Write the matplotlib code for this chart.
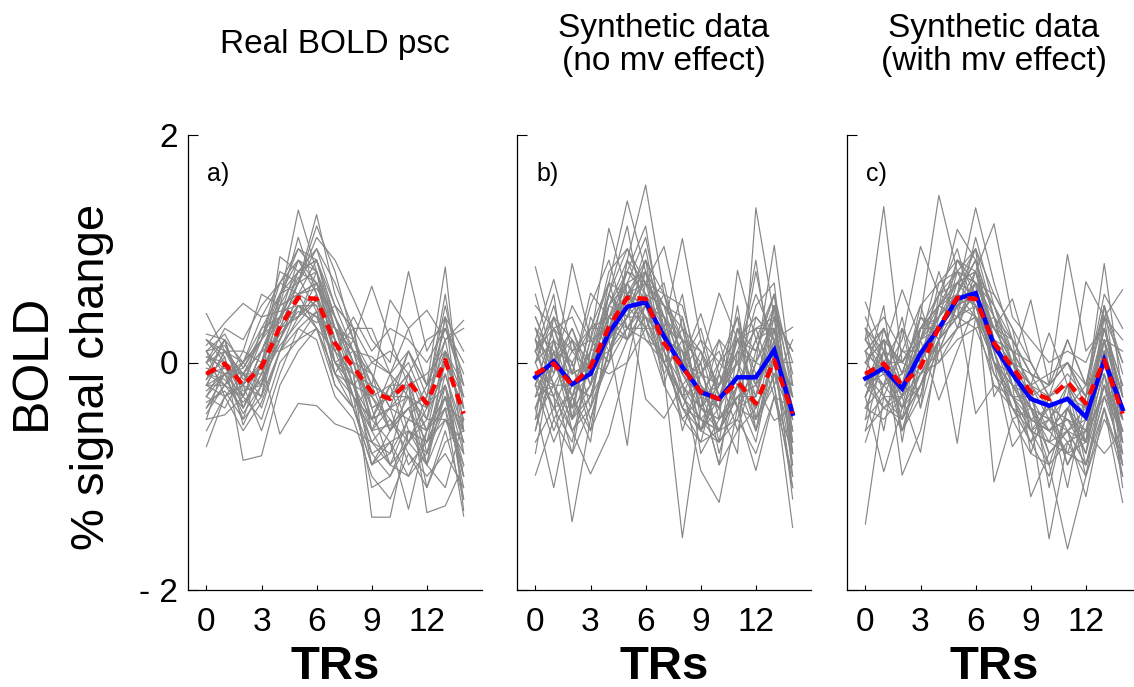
import matplotlib
matplotlib.use("Agg")
import matplotlib.pyplot as plt
import numpy as np

plt.rcParams['font.family'] = ['Liberation Sans', 'DejaVu Sans']

trs = list(range(15))
xtick_vals = [0, 3, 6, 9, 12]
ytick_vals = [-2, 0, 2]
ytick_labels = ["- 2", "0", "2"]
titles = ["Real BOLD psc", "Synthetic data\n(no mv effect)", "Synthetic data\n(with mv effect)"]
panel_tags = ["a)", "b)", "c)"]

real_mean = [-0.10, -0.01, -0.20, -0.04, 0.31, 0.57, 0.56, 0.17, -0.04, -0.26, -0.32, -0.17, -0.36, 0.02, -0.45]
synth_nomv_mean = [-0.13, 0.01, -0.19, -0.10, 0.26, 0.49, 0.53, 0.23, -0.04, -0.26, -0.32, -0.13, -0.13, 0.11, -0.45]
synth_mv_mean = [-0.14, -0.05, -0.23, 0.08, 0.30, 0.56, 0.61, 0.15, -0.10, -0.32, -0.38, -0.32, -0.48, 0.02, -0.41]

real_subjects = [
    [0.10, 0.25, -0.05, 0.20, 0.55, 1.34, 0.80, 0.30, 0.10, 0.05, -0.10, 0.10, -0.20, 0.30, -0.20],
    [-0.30, -0.10, -0.45, -0.20, 0.40, 0.70, 1.30, 0.60, 0.20, -0.10, -0.40, -0.30, -0.60, -0.20, -0.70],
    [-0.74, -0.30, -0.60, -0.35, 0.10, 0.30, 0.45, 0.00, -0.30, -0.60, -0.55, -0.40, -0.70, -0.30, -0.90],
    [0.20, 0.05, -0.86, -0.82, -0.20, 0.10, 0.30, -0.10, -0.20, -0.50, -0.70, -0.60, -0.80, -0.40, -1.00],
    [-0.20, 0.10, 0.00, 0.30, 0.60, 0.90, 0.70, 0.40, -0.10, -1.36, -1.36, -0.60, -0.90, -0.50, -0.80],
    [0.00, -0.20, -0.30, 0.10, 0.20, 0.60, 0.50, 0.00, -0.20, -0.80, -0.70, -1.29, -0.60, -0.40, -1.35],
    [0.15, 0.35, 0.52, 0.40, 0.45, 0.50, 0.40, 0.30, 0.20, 0.67, 0.20, -0.20, -0.10, 0.10, -0.30],
    [-0.40, -0.20, 0.00, -0.20, 0.93, 0.80, 0.90, 0.50, 0.10, -0.20, 0.55, 0.30, -0.20, 0.20, 0.37],
    [0.05, 0.00, -0.40, -0.10, 0.30, 0.70, 1.10, 0.90, 0.56, 0.20, 0.00, 0.80, 0.10, 0.40, 0.10],
    [-0.10, -0.05, -0.10, 0.20, 0.40, 0.40, 0.55, 0.10, -0.10, -0.30, -0.20, -0.20, -1.32, -1.26, -0.90],
    [-0.25, -0.10, -0.30, 0.00, 0.50, 1.10, 0.60, -0.10, -0.30, -0.50, -0.40, 0.10, -0.20, 0.84, -0.60],
    [-0.50, -0.46, -0.30, -0.50, 0.00, 0.20, 0.30, -0.20, -0.40, -0.90, -0.80, -0.50, -0.60, -0.30, -1.10],
    [0.43, 0.10, -0.10, 0.10, 0.40, 0.60, 0.70, 0.30, -0.10, -0.20, -0.30, -0.10, -0.50, 0.00, -0.40],
    [-0.15, 0.20, -0.25, -0.20, 0.20, 0.50, 0.40, 0.00, 0.10, -0.40, -0.30, -0.30, -0.40, 0.20, -0.60],
    [-0.05, -0.10, -0.05, 0.25, 0.35, 0.80, 0.90, 0.40, 0.00, -0.10, -0.60, -0.40, -0.30, 0.10, -0.20],
    [-0.35, -0.25, -0.50, -0.30, 0.10, 0.40, 0.60, 0.20, -0.20, -0.60, -0.90, -0.70, -0.40, -0.10, -0.70],
    [0.10, 0.15, -0.15, -0.05, 0.25, 0.45, 0.35, 0.50, 0.30, 0.00, 0.10, -0.10, 0.20, 0.30, 0.00],
    [-0.20, -0.30, -0.20, 0.00, -0.63, -0.36, -0.38, -0.54, -0.60, -0.70, -0.50, -0.80, -1.00, -0.80, -1.10],
    [0.00, 0.30, 0.20, 0.50, 0.70, 0.90, 0.80, 0.20, -0.30, -0.50, -0.40, -0.20, -0.60, 0.10, -0.50],
    [-0.10, -0.15, -0.35, -0.15, 0.15, 0.35, 0.55, 0.30, 0.10, -0.10, -0.40, -0.50, -0.20, 0.00, -0.30],
    [0.20, 0.10, 0.10, 0.00, 0.60, 1.00, 0.80, 0.30, 0.00, -0.40, -0.30, 0.10, -0.30, 0.50, -0.20],
    [-0.30, 0.00, -0.10, -0.40, 0.10, 0.50, 0.30, -0.10, 0.20, -0.20, -0.60, -0.40, -0.90, -0.20, -0.80],
    [-0.45, -0.20, -0.40, 0.00, 0.30, 0.40, 0.70, 0.10, -0.30, -1.10, -1.00, -0.60, -0.70, -0.40, -0.50],
    [0.05, -0.05, -0.20, 0.30, 0.40, 0.75, 0.45, 0.00, -0.20, 0.00, -0.10, -0.30, -0.50, 0.40, -0.30],
    [-0.15, 0.05, -0.55, -0.20, 0.20, 0.60, 0.65, 0.40, 0.10, -0.50, -0.20, 0.00, -0.40, -0.20, -1.00],
    [-0.60, -0.30, -0.20, -0.60, -0.10, 0.30, 0.20, -0.30, -0.50, -1.00, -1.20, -0.80, -1.10, -0.60, -1.20],
    [0.25, 0.20, 0.00, 0.20, 0.80, 0.70, 1.00, 0.70, 0.30, 0.30, -0.10, 0.30, 0.46, 0.20, 0.30],
    [-0.20, -0.10, -0.10, -0.30, 0.30, 0.50, 0.40, 0.20, -0.20, -0.30, -0.50, -0.70, -0.30, 0.60, -0.40],
    [0.00, 0.20, -0.30, 0.10, 0.10, 0.20, 0.45, -0.20, -0.40, -0.20, -0.30, -0.10, -0.80, -0.10, -0.60],
    [-0.10, -0.20, 0.10, 0.60, 0.50, 0.60, 0.30, 0.10, 0.40, 0.10, 0.30, 0.20, 0.00, 0.30, -0.10],
    [-0.20, 0.10, -0.10, 0.10, 0.50, 0.80, 0.70, 0.20, -0.30, -0.70, -0.90, -1.00, -0.60, -0.30, -1.00],
    [0.10, -0.10, 0.00, 0.40, 0.70, 0.60, 0.90, 0.40, 0.00, -0.60, -0.40, -0.90, -0.70, -0.50, -0.70],
    [-0.30, -0.40, -0.10, -0.10, 0.30, 0.70, 0.80, 0.00, -0.10, -0.90, -0.60, -0.30, -1.10, -0.70, -0.60],
    [0.00, 0.10, -0.20, -0.30, 0.60, 0.80, 1.00, 0.50, 0.30, -0.40, -0.90, -0.50, -0.60, -0.20, -1.20],
    [-0.40, -0.10, -0.50, 0.00, 0.40, 0.90, 0.60, -0.10, -0.40, -0.80, -1.00, -0.70, -0.90, -1.10, -0.50],
    [0.20, 0.00, -0.20, 0.20, 0.60, 0.70, 1.20, 0.80, 0.20, -0.30, -0.60, -0.10, -0.40, 0.40, -0.80],
    [-0.10, 0.20, -0.40, -0.10, 0.20, 0.50, 0.50, 0.10, 0.30, -0.60, -0.20, -0.70, -0.50, -0.50, -0.90],
    [-0.20, -0.20, 0.00, 0.20, 0.70, 1.00, 0.90, 0.30, -0.20, -0.70, -0.80, -0.20, -0.90, 0.10, -1.30],
    [0.10, -0.30, -0.10, -0.20, 0.30, 0.40, 0.80, 0.40, 0.00, -0.50, -0.10, -0.60, -0.70, 0.00, -0.40],
    [-0.50, 0.00, -0.30, 0.10, 0.50, 0.60, 0.70, 0.20, -0.40, -0.90, -0.70, -1.00, -0.80, -0.30, -0.60],
]

synth_nomv_subjects = [
    [0.84, 0.20, -0.30, 0.10, 0.50, 0.90, 1.56, 0.60, 0.20, -0.40, -0.20, 0.30, 0.10, 0.50, -0.20],
    [-0.99, -0.50, -0.80, -0.40, 0.00, 0.30, 0.20, 0.00, -0.30, -0.60, -0.70, -0.40, -0.50, -0.20, -1.45],
    [0.20, 0.73, 0.10, 0.30, 0.70, 1.42, 0.80, 0.50, 0.30, -0.10, 0.20, 0.00, 0.30, 0.40, 0.10],
    [-0.40, -1.10, -0.30, -0.60, -0.20, 0.20, 0.50, 0.10, -0.50, -0.30, -0.90, -0.60, -0.40, 0.00, -0.90],
    [0.30, -0.10, 0.87, 0.20, 1.18, 0.60, 0.90, 0.40, 0.20, 0.10, -0.30, 0.20, 0.10, 0.60, -0.10],
    [-0.20, -0.30, -1.40, -0.50, 0.10, 0.40, 0.40, 0.00, -0.40, -0.50, -0.60, -0.20, -0.60, -0.10, -0.70],
    [0.10, 0.30, -0.10, 0.61, 0.40, 0.80, 0.70, 1.02, 0.30, 0.10, -0.20, 0.10, 0.00, 0.30, -0.30],
    [-0.50, -0.20, -0.60, -0.98, -0.63, 0.00, 0.30, -0.20, -0.50, -0.70, -0.60, -0.50, -0.80, -0.30, -1.00],
    [0.00, 0.40, 0.20, 0.00, 0.60, 0.40, 0.80, 0.30, 1.09, 0.20, 0.00, -0.20, 0.20, 0.30, -0.40],
    [-0.30, 0.10, -0.40, -0.20, 0.20, -0.73, 0.60, 0.10, -0.20, -0.50, -0.30, 0.00, -0.30, 0.20, -0.60],
    [0.40, 0.00, 0.30, -0.10, 0.50, 0.70, 0.40, -0.10, -1.54, -0.40, -0.50, -0.30, -0.20, 0.10, -0.50],
    [-0.10, -0.40, 0.00, 0.30, 0.30, 0.60, 0.50, 0.40, 0.00, 0.43, -0.10, 0.40, -0.20, 0.50, 0.00],
    [-0.60, 0.20, -0.50, -0.30, 0.40, 0.50, -0.32, -0.49, -0.20, -0.95, -1.23, -0.40, -0.95, -0.30, -0.80],
    [0.20, -0.20, 0.10, 0.20, 0.00, 0.90, 0.70, 0.50, 0.20, 0.00, 0.61, 0.20, 0.40, 0.20, 0.31],
    [-0.20, 0.30, -0.20, 0.10, 0.60, 0.30, 0.60, 0.30, -0.10, -0.40, -0.50, 0.81, 0.20, 0.60, -0.30],
    [0.10, -0.30, -0.60, -0.40, 0.10, 0.60, 0.40, 0.20, 0.10, -0.20, -0.40, -0.80, 1.36, 0.40, -0.60],
    [-0.40, 0.00, 0.20, -0.20, 0.20, 0.40, 0.90, 0.60, 0.00, -0.30, 0.00, 0.20, 0.00, 1.03, -0.20],
    [0.00, 0.50, -0.10, 0.00, 0.40, 0.30, 0.30, 0.00, -0.30, -0.20, -0.60, -0.30, -0.20, -0.51, -0.40],
    [-0.70, -0.40, -0.30, -0.10, 0.30, 0.60, 0.70, 0.40, 0.10, -0.60, -0.30, 0.10, 0.60, 0.20, -0.80],
    [0.30, 0.10, -0.40, 0.20, 0.70, 0.20, 0.50, 0.00, -0.40, 0.00, -0.80, -0.20, -0.40, 0.00, -0.20],
    [-0.10, -0.60, -0.20, -0.30, 0.00, 0.70, 1.10, 0.30, -0.10, -0.30, -0.20, 0.00, 0.30, -0.20, -1.10],
    [0.50, 0.30, 0.40, 0.00, 0.20, 0.50, 0.30, 0.60, 0.50, -0.10, 0.10, -0.40, 0.00, 0.40, 0.10],
    [-0.30, -0.20, -0.80, 0.10, 0.80, 1.00, 0.60, 0.10, -0.30, -0.50, -0.60, -0.10, 0.80, 0.00, -0.30],
    [0.00, 0.20, 0.00, -0.50, 0.10, 0.40, 0.60, 0.50, 0.40, -0.20, -0.40, 0.50, -0.50, 0.30, -0.70],
    [-0.50, 0.40, -0.10, 0.00, 0.50, 0.80, 1.20, 0.20, 0.10, -0.40, -0.10, -0.60, 0.00, -0.10, -0.20],
    [0.60, 0.00, 0.50, 0.20, 0.30, 0.20, 0.40, 0.30, -0.60, -0.10, -0.20, 0.20, -0.30, 0.50, -0.50],
    [-0.20, -0.70, -0.30, -0.70, 0.40, 0.60, 0.80, -0.10, 0.20, -0.80, -0.50, -0.30, -0.70, 0.10, -1.20],
    [0.10, 0.60, -0.50, 0.40, 0.10, 0.30, 0.50, 0.70, 0.00, 0.30, -0.30, 0.00, 0.90, -0.20, 0.20],
    [-0.40, -0.10, 0.30, -0.20, 0.60, 1.20, 0.30, 0.00, 0.30, -0.40, 0.20, -0.40, -0.30, 0.30, -0.40],
    [0.20, -0.50, -0.20, 0.00, -0.10, 0.00, 0.70, 0.40, -0.20, 0.00, -0.70, 0.30, -0.10, 0.00, 0.00],
    [-0.80, 0.10, -0.60, -0.30, 0.30, 0.70, 0.20, 0.10, 0.60, -0.30, -0.40, -0.10, 0.50, 0.70, -0.80],
    [0.40, 0.00, -0.10, 0.50, 0.90, 0.30, 0.60, 0.20, -0.40, -0.60, 0.00, 0.40, -0.60, 0.20, -0.30],
    [-0.30, 0.20, -0.50, 0.00, 0.40, 0.70, 0.80, 0.30, -0.20, -0.40, -0.60, -0.30, -0.30, 0.40, -0.90],
    [0.10, -0.30, 0.20, -0.40, 0.50, 0.40, 0.90, 0.00, 0.10, -0.60, -0.20, 0.00, -0.60, 0.10, -0.60],
    [-0.60, 0.00, -0.40, 0.20, 0.00, 0.90, 0.50, 0.40, -0.30, 0.10, -0.50, -0.20, 0.20, -0.30, -0.40],
    [0.30, -0.20, -0.20, -0.30, 0.30, 0.50, 0.70, 0.60, 0.00, -0.30, -0.90, 0.10, -0.20, 0.50, -1.00],
    [-0.20, 0.30, 0.10, -0.10, 0.70, 0.60, 0.40, 0.00, -0.40, -0.70, -0.10, -0.40, 0.40, 0.20, -0.60],
    [0.00, -0.40, -0.70, 0.10, 0.20, 0.50, 1.00, 0.20, 0.00, -0.10, -0.40, 0.30, -0.40, 0.00, -0.30],
    [-0.40, 0.10, 0.00, -0.60, 0.30, 0.80, 0.60, -0.20, 0.40, -0.50, -0.70, -0.50, 0.10, 0.60, -0.70],
    [0.20, 0.00, -0.30, 0.30, 0.40, 0.20, 0.80, 0.50, -0.10, 0.20, -0.30, -0.10, -0.50, -0.10, -0.50],
    [-0.10, -0.20, -0.50, -0.20, 0.60, 1.00, 0.70, 0.10, -0.30, -0.60, -0.40, 0.20, 0.30, 0.30, -0.80],
    [0.10, 0.40, -0.10, 0.00, 0.10, 0.60, 0.30, 0.30, 0.20, -0.30, -0.60, -0.30, -0.10, 0.00, -1.10],
]

synth_mv_subjects = [
    [-1.42, -0.30, -0.50, -0.20, 0.20, 0.40, 0.50, 0.00, -0.30, -0.50, -0.60, -0.40, -0.70, -0.20, -0.60],
    [0.20, 1.37, 0.00, 0.30, 0.50, 0.80, 0.70, 0.30, 0.10, -0.20, -0.30, -0.10, -0.30, 0.30, -0.20],
    [0.53, 0.10, 0.64, 0.20, 0.40, 0.60, 0.90, 0.40, 0.00, -0.10, -0.20, 0.00, -0.40, 0.20, 0.10],
    [-0.30, -0.96, -0.40, -0.10, 0.00, 0.30, 0.40, 0.10, -0.40, -0.60, -0.70, -0.80, -0.90, -0.30, -0.80],
    [0.00, 0.20, -0.99, -0.60, 0.10, 0.50, 0.60, 0.20, -0.20, -0.40, -0.60, -0.50, -0.70, 0.10, -0.50],
    [0.10, -0.10, 0.20, 1.02, 0.60, 0.70, 0.80, 0.50, 0.20, -0.10, -0.20, 0.20, -0.20, 0.40, 0.00],
    [-0.50, -0.30, -0.30, -0.79, 0.20, 0.40, 0.30, -0.10, -0.30, -0.70, -0.50, -0.70, -0.60, -0.10, -0.70],
    [0.00, 0.30, -0.10, 0.40, 1.47, 0.80, 1.00, 0.60, 0.30, 0.00, -0.30, -0.20, -0.50, 0.20, -0.30],
    [-0.20, -0.40, -0.30, 0.20, -0.33, 0.10, 0.50, 0.20, -0.10, -0.40, -0.80, -0.60, -0.90, -0.40, -1.23],
    [0.30, 0.10, 0.00, 0.30, 0.50, 1.17, 0.90, 0.40, 0.10, -0.20, -0.10, 0.00, -0.20, 0.50, -0.10],
    [-0.30, 0.00, -0.50, -0.10, 0.20, -0.71, 0.40, 0.00, -0.20, -0.50, -0.60, -0.40, -0.80, -0.20, -0.90],
    [0.10, -0.10, -0.20, 0.30, 0.40, 0.60, 1.36, 0.70, 0.20, -0.10, -0.40, -0.30, -0.40, 0.30, -0.40],
    [-0.40, -0.20, -0.10, 0.10, 0.30, 0.50, -0.45, -0.20, -0.30, -0.60, -0.70, -0.60, -0.90, -0.30, -0.60],
    [0.20, 0.40, 0.10, 0.50, 0.70, 0.90, 0.80, 1.22, 0.40, 0.20, 0.00, 0.10, 0.00, 0.40, 0.20],
    [-0.10, -0.30, -0.60, -0.20, 0.10, 0.50, 0.70, -1.05, -0.50, -0.80, -0.90, -0.70, -1.00, -0.50, -0.80],
    [-0.30, 0.10, -0.20, 0.00, 0.30, 0.40, 0.60, 0.30, 0.56, 0.00, -0.30, -0.20, -0.50, 0.10, -0.40],
    [-0.60, -0.40, -0.50, -0.20, 0.30, 0.60, 0.40, 0.00, -0.74, -0.50, -0.60, -0.80, -0.70, -0.20, -0.70],
    [0.00, 0.20, 0.00, 0.20, 0.50, 0.70, 0.60, 0.10, 0.00, 0.55, -0.20, 0.00, -0.30, 0.50, 0.00],
    [-0.20, -0.10, -0.40, 0.00, 0.30, 0.50, 0.60, 0.20, -0.20, -1.18, -0.80, -0.60, -0.70, -0.20, -0.50],
    [0.30, 0.00, -0.30, 0.40, 0.20, 0.40, 0.70, 0.30, 0.00, -0.20, 0.26, -0.20, -0.40, 0.30, -0.30],
    [-0.10, -0.20, 0.10, 0.10, 0.40, 0.60, 0.50, 0.00, -0.40, -0.50, -1.55, -0.70, -0.60, 0.00, -0.60],
    [0.10, 0.30, -0.20, 0.20, 0.60, 0.80, 0.70, 0.40, 0.20, -0.10, -0.20, 0.95, 0.10, 0.30, -0.20],
    [-0.40, -0.50, -0.30, -0.10, 0.10, 0.30, 0.40, 0.20, -0.10, -0.60, -0.90, -1.64, -1.00, -0.40, -0.90],
    [0.20, 0.00, 0.00, 0.30, 0.50, 0.70, 0.50, 0.30, 0.10, -0.20, -0.40, -0.30, 0.71, 0.40, 0.64],
    [-0.30, 0.10, -0.40, -0.20, 0.20, 0.50, 0.80, 0.10, -0.30, -0.40, -0.50, -0.60, -1.18, -0.40, -1.00],
    [0.00, -0.20, -0.10, 0.40, 0.30, 0.60, 0.90, 0.20, 0.00, -0.30, -0.20, 0.00, -0.30, 0.87, -0.30],
    [-0.20, 0.20, -0.60, -0.30, 0.40, 0.90, 0.60, 0.00, -0.20, -0.50, -0.40, -0.50, -0.60, -0.80, -0.60],
    [0.40, 0.00, 0.30, 0.00, 0.50, 0.40, 1.10, 0.50, 0.10, 0.00, -0.30, 0.20, -0.20, 0.60, 0.30],
    [-0.50, 0.30, -0.20, 0.50, 0.00, 0.20, 0.30, 0.40, -0.20, -0.30, -0.60, -0.40, -0.80, 0.20, -0.40],
    [0.10, -0.60, 0.30, -0.40, 0.60, 1.00, 0.40, -0.20, -0.40, -0.70, -0.30, -0.90, -0.50, 0.10, -0.70],
    [-0.10, 0.50, -0.70, 0.20, 0.80, 0.30, 0.70, 0.60, 0.30, -0.40, -0.50, -0.20, -0.70, 0.50, -0.50],
    [-0.70, -0.20, 0.40, -0.40, 0.20, 0.70, 1.00, -0.30, 0.00, -0.20, -1.10, -0.40, -0.20, -0.10, -1.00],
    [-0.20, 0.10, -0.30, 0.10, 0.40, 0.70, 0.80, 0.30, 0.00, -0.50, -0.60, -0.50, -0.80, 0.00, -0.50],
    [0.00, -0.20, -0.40, 0.30, 0.60, 0.50, 0.70, 0.00, -0.30, -0.30, -0.80, -0.60, -0.40, 0.20, -0.80],
    [-0.30, 0.20, 0.00, -0.10, 0.20, 0.80, 0.50, 0.20, 0.10, -0.60, -0.40, -0.90, -0.60, 0.30, -0.30],
    [0.20, -0.10, -0.20, 0.20, 0.30, 0.60, 1.00, 0.40, -0.20, -0.20, -0.50, -0.30, -1.00, -0.10, -0.60],
    [-0.40, 0.00, -0.60, 0.00, 0.50, 0.40, 0.60, -0.10, -0.40, -0.70, -1.00, -0.40, -0.70, 0.40, -0.70],
    [0.10, 0.30, -0.10, 0.40, 0.20, 0.90, 0.70, 0.50, 0.00, -0.30, -0.40, -1.10, -0.30, 0.00, -0.40],
    [-0.10, -0.40, -0.20, -0.30, 0.50, 0.60, 0.90, 0.10, -0.50, -0.40, -0.70, -0.20, -0.90, -0.20, -0.60],
    [-0.60, 0.10, -0.50, 0.30, 0.30, 0.50, 0.40, 0.30, 0.20, -0.80, -0.30, -0.60, -0.50, 0.10, -1.10],
    [0.30, -0.30, 0.10, 0.00, 0.70, 0.80, 0.50, 0.00, -0.10, -0.40, -0.90, -0.40, -0.60, -0.30, -0.20],
    [-0.20, 0.00, -0.30, 0.10, 0.10, 0.30, 0.80, 0.20, -0.30, -0.60, -0.50, -0.80, -0.30, 0.20, -0.90],
]

W, H = 1134, 687
fig = plt.figure(figsize=(W / 100, H / 100), dpi=100)

ax_left_px = [188, 517, 847]
ax_w_px = 294
ax_top_px, ax_bot_px = 135, 590

panels = [
    (real_subjects, None),
    (synth_nomv_subjects, synth_nomv_mean),
    (synth_mv_subjects, synth_mv_mean),
]

gray = (0.53, 0.53, 0.53)
for i, (subjects, blue_mean) in enumerate(panels):
    l = ax_left_px[i] / W
    b = (H - ax_bot_px) / H
    ax = fig.add_axes([l, b, ax_w_px / W, (ax_bot_px - ax_top_px) / H])
    for s in subjects:
        ax.plot(trs, s, color=gray, lw=0.85, zorder=1)
    if blue_mean is not None:
        ax.plot(trs, blue_mean, color=(0.0, 0.0, 1.0), lw=3.2, zorder=3,
                solid_joinstyle='miter')
    ax.plot(trs, real_mean, color=(1.0, 0.0, 0.0), lw=3.2, zorder=4,
            dashes=(2.4, 1.7))
    ax.set_xlim(-1, 15)
    ax.set_ylim(-2, 2)
    for sp in ['top', 'right']:
        ax.spines[sp].set_visible(False)
    for sp in ['left', 'bottom']:
        ax.spines[sp].set_linewidth(0.9)
    ax.set_xticks(xtick_vals)
    ax.set_xticklabels([str(v) for v in xtick_vals], fontsize=24)
    ax.set_yticks(ytick_vals)
    if i == 0:
        ax.set_yticklabels(ytick_labels, fontsize=24)
    else:
        ax.set_yticklabels([])
    ax.tick_params(axis='x', direction='in', length=3.5, width=0.8, pad=12)
    ax.tick_params(axis='y', direction='in', length=7, width=0.8, pad=7)
    ax.text(0.065, 0.915, panel_tags[i], transform=ax.transAxes,
            fontsize=18, ha='left', va='center')
    cx = (ax_left_px[i] + ax_w_px / 2) / W
    fig.text(cx, 1 - 45 / H, titles[i], ha='center', va='center',
             fontsize=24, linespacing=1.05)
    fig.text(cx, 1 - 667 / H, "TRs", ha='center', va='center',
             fontsize=34, fontweight='bold')

fig.text(32 / W, 1 - 362 / H, "BOLD", rotation=90, ha='center', va='center',
         fontsize=36)
fig.text(92 / W, 1 - 377 / H, "% signal change", rotation=90, ha='center',
         va='center', fontsize=34)

fig.savefig("out.png", dpi=100)
